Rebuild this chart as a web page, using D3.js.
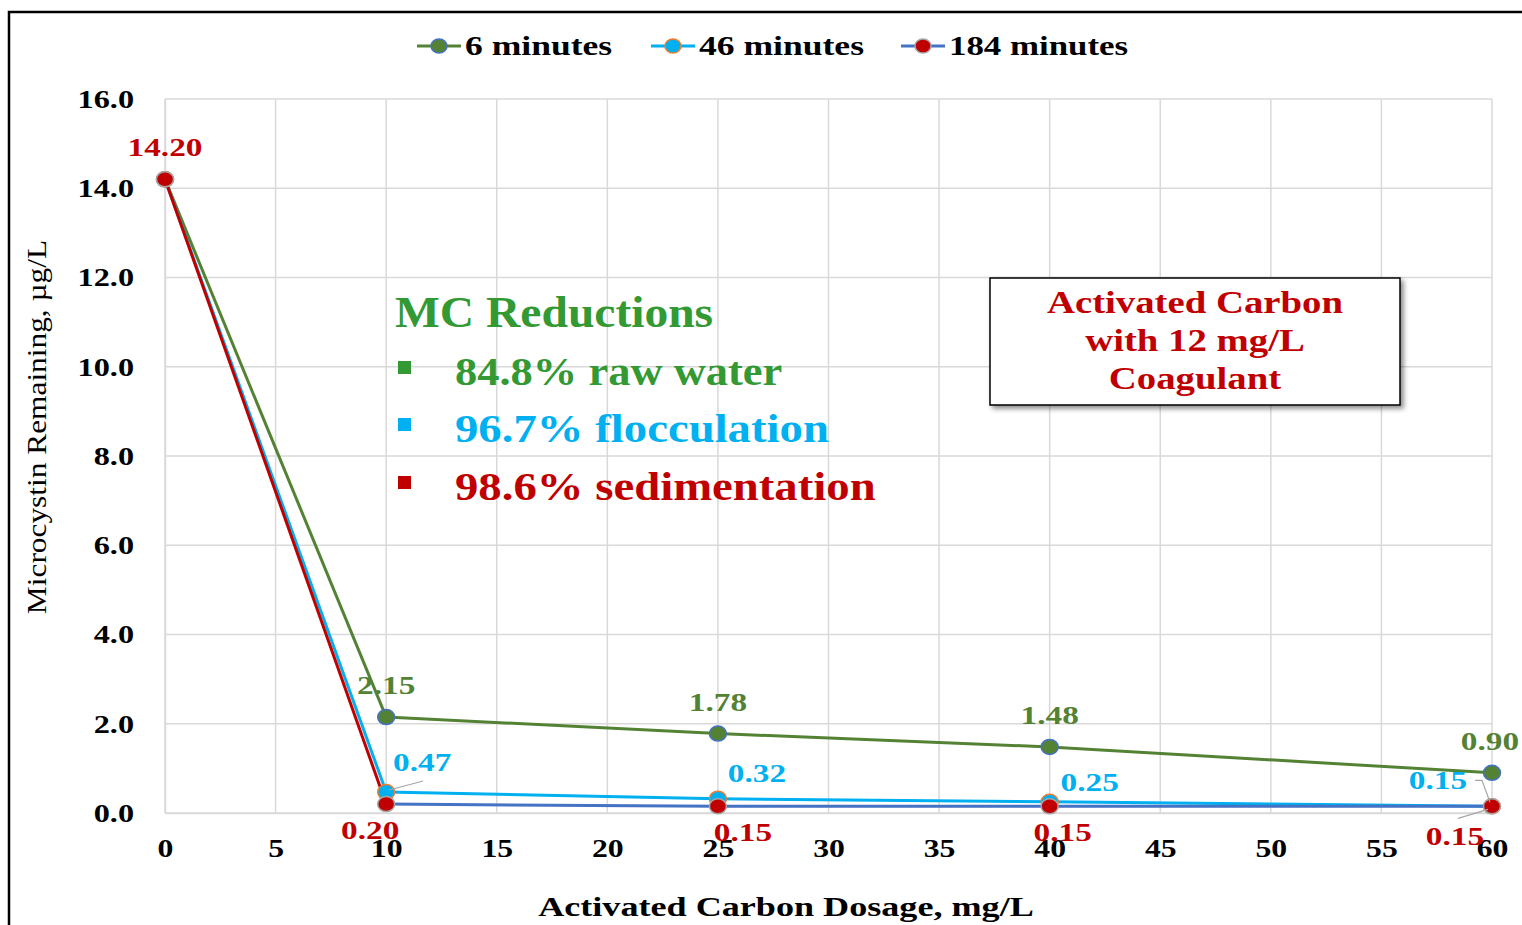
<!DOCTYPE html>
<html><head><meta charset="utf-8">
<script src="https://cdn.jsdelivr.net/npm/d3@7"></script>
<style>body{margin:0;background:#fff}svg{display:block}text{font-family:"Liberation Serif","Times New Roman",serif}</style>
</head><body><svg id="c" width="1522" height="925"></svg>
<script>
const dosage = [0, 10, 25, 40, 60];
const min6 = [14.2, 2.15, 1.78, 1.48, 0.90];
const min46 = [14.2, 0.47, 0.32, 0.25, 0.15];
const min184 = [14.2, 0.20, 0.15, 0.15, 0.15];
const seriesNames = ["6 minutes", "46 minutes", "184 minutes"];
const xTicks = [0,5,10,15,20,25,30,35,40,45,50,55,60];
const yTicks = [0,2,4,6,8,10,12,14,16];
const reductions = ["84.8% raw water", "96.7% flocculation", "98.6% sedimentation"];
const boxLines = ["Activated Carbon", "with 12 mg/L", "Coagulant"];

const svg = d3.select("#c");
const x = d3.scaleLinear().domain([0,60]).range([165,1492]);
const y = d3.scaleLinear().domain([0,16]).range([813,99]);

function stretch(sel, k){
  sel.each(function(){
    const w = this.getComputedTextLength();
    d3.select(this).attr("textLength", w*k).attr("lengthAdjust","spacingAndGlyphs");
  });
  return sel;
}

// outer frame
svg.append("path").attr("d","M9,925 V12 H1522").attr("fill","none").attr("stroke","#000").attr("stroke-width",2.5);

// grid
svg.append("g").selectAll("line").data(xTicks).join("line")
  .attr("x1",d=>x(d)).attr("x2",d=>x(d)).attr("y1",y(16)).attr("y2",y(0))
  .attr("stroke","#d9d9d9").attr("stroke-width",1.5);
svg.append("g").selectAll("line").data(yTicks).join("line")
  .attr("x1",x(0)).attr("x2",x(60)).attr("y1",d=>y(d)).attr("y2",d=>y(d))
  .attr("stroke","#d9d9d9").attr("stroke-width",1.5);

// axes via d3
const xAxis = svg.append("g").attr("transform",`translate(0,${y(0)})`)
  .call(d3.axisBottom(x).tickValues(xTicks).tickSize(0).tickPadding(26).tickFormat(d3.format("d")));
xAxis.select(".domain").attr("stroke","#d9d9d9").attr("stroke-width",1.5);
stretch(xAxis.selectAll("text").attr("font-size",26).attr("font-weight","bold").attr("fill","#000").attr("font-family","Liberation Serif"), 1.22);
const yAxis = svg.append("g").attr("transform",`translate(${x(0)},0)`)
  .call(d3.axisLeft(y).tickValues(yTicks).tickSize(0).tickPadding(31).tickFormat(d3.format(".1f")));
yAxis.select(".domain").attr("stroke","#d9d9d9").attr("stroke-width",1.5);
stretch(yAxis.selectAll("text").attr("font-size",26).attr("font-weight","bold").attr("fill","#000").attr("font-family","Liberation Serif"), 1.24);

// axis titles
stretch(svg.append("text").attr("x",786).attr("y",916).attr("text-anchor","middle")
  .attr("font-size",28).attr("font-weight","bold").text("Activated Carbon Dosage, mg/L"), 1.29);
stretch(svg.append("text").attr("transform","translate(46,427) rotate(-90)").attr("text-anchor","middle")
  .attr("font-size",28).text("Microcystin Remaining, µg/L"), 1.12);

// series
const series = [
  {name:seriesNames[0], vals:min6, line:"#548235", fill:"#548235", stroke:"#4472C4", first:"#548235"},
  {name:seriesNames[1], vals:min46, line:"#00B0F0", fill:"#00B0F0", stroke:"#ED7D31", first:"#00B0F0"},
  {name:seriesNames[2], vals:min184, line:"#4472C4", fill:"#C00000", stroke:"#A5A5A5", first:"#C00000"}
];
const lineGen = d3.line().x(d=>x(d[0])).y(d=>y(d[1]));
series.forEach(s=>{
  const pts = dosage.map((d,i)=>[d,s.vals[i]]);
  svg.append("path").attr("d",lineGen(pts.slice(1))).attr("fill","none").attr("stroke",s.line).attr("stroke-width",3);
  s.firstPath = pts.slice(0,2);
});
series.forEach(s=>{
  svg.append("path").attr("d",lineGen(s.firstPath)).attr("fill","none").attr("stroke",s.first).attr("stroke-width",3);
});
series.forEach(s=>{
  svg.append("g").selectAll("ellipse").data(dosage.map((d,i)=>[d,s.vals[i]])).join("ellipse")
    .attr("cx",d=>x(d[0])).attr("cy",d=>y(d[1])).attr("rx",8.5).attr("ry",7.5)
    .attr("fill",s.fill).attr("stroke",s.stroke).attr("stroke-width",1.5);
});

// data labels
const fmt = d3.format(".2f");
const lab = (xv, yv, dx, dy, color, txt)=> stretch(svg.append("text").attr("x",x(xv)+dx).attr("y",y(yv)+dy)
  .attr("text-anchor","middle").attr("font-size",26).attr("font-weight","bold").attr("fill",color).text(txt), 1.28);
lab(dosage[0], min184[0], 0, -23, "#C00000", fmt(min184[0]));
// 6 min
lab(dosage[1], min6[1], 0, -23, "#548235", fmt(min6[1]));
lab(dosage[2], min6[2], 0, -23, "#548235", fmt(min6[2]));
lab(dosage[3], min6[3], 0, -23, "#548235", fmt(min6[3]));
lab(dosage[4], min6[4], -2, -23, "#548235", fmt(min6[4]));
// 46 min
lab(dosage[1], min46[1], 36, -21, "#00B0F0", fmt(min46[1]));
lab(dosage[2], min46[2], 39, -17, "#00B0F0", fmt(min46[2]));
lab(dosage[3], min46[3], 40, -11, "#00B0F0", fmt(min46[3]));
lab(dosage[4], min46[4], -54, -17, "#00B0F0", fmt(min46[4]));
// 184 min
lab(dosage[1], min184[1], -16, 35, "#C00000", fmt(min184[1]));
lab(dosage[2], min184[2], 25, 35, "#C00000", fmt(min184[2]));
lab(dosage[3], min184[3], 13, 35, "#C00000", fmt(min184[3]));
lab(dosage[4], min184[4], -37, 39, "#C00000", fmt(min184[4]));
// leader lines
const lead = (pts)=> svg.append("path").attr("d",d3.line()(pts)).attr("fill","none").attr("stroke","#a6a6a6").attr("stroke-width",1.2);
lead([[x(dosage[1])+3, y(min46[1])-2],[x(dosage[1])+37, y(min46[1])-11]]);
lead([[x(dosage[4])-17, y(min46[4])-26],[x(dosage[4])-10, y(min46[4])-26],[x(dosage[4])-2, y(min46[4])-4]]);
lead([[x(dosage[4])-34, y(min184[4])+12],[x(dosage[4])-4, y(min184[4])+3]]);

// legend
const legX = [417, 651, 901];
const legK = [1.27, 1.27, 1.245];
series.forEach((s,i)=>{
  const g = svg.append("g");
  g.append("line").attr("x1",legX[i]).attr("x2",legX[i]+44).attr("y1",46).attr("y2",46).attr("stroke",s.line).attr("stroke-width",3);
  g.append("ellipse").attr("cx",legX[i]+22).attr("cy",46).attr("rx",8).attr("ry",7).attr("fill",s.fill).attr("stroke",s.stroke).attr("stroke-width",1.5);
  stretch(g.append("text").attr("x",legX[i]+48).attr("y",55).attr("font-size",28).attr("font-weight","bold").attr("fill","#000").text(s.name), legK[i]);
});

// MC Reductions annotation
const redColors = ["#339933","#00B0F0","#C00000"];
stretch(svg.append("text").attr("x",395).attr("y",327).attr("font-size",44).attr("font-weight","bold").attr("fill","#339933").text("MC Reductions"), 1.08);
const redY = [385, 442, 500];
const redK = [1.085, 1.14, 1.14];
reductions.forEach((t,i)=>{
  svg.append("rect").attr("x",398).attr("y",redY[i]-24).attr("width",13).attr("height",13).attr("fill",redColors[i]);
  stretch(svg.append("text").attr("x",455).attr("y",redY[i]).attr("font-size",41).attr("font-weight","bold").attr("fill",redColors[i]).text(t), redK[i]);
});

// text box
const defs = svg.append("defs");
const f = defs.append("filter").attr("id","sh").attr("x","-10%").attr("y","-10%").attr("width","130%").attr("height","140%");
f.append("feDropShadow").attr("dx",3).attr("dy",3).attr("stdDeviation",2.5).attr("flood-color","#000").attr("flood-opacity",0.45);
svg.append("rect").attr("x",990).attr("y",278).attr("width",410).attr("height",127).attr("fill","#fff").attr("stroke","#000").attr("stroke-width",1.5).attr("filter","url(#sh)");
boxLines.forEach((t,i)=>{
  stretch(svg.append("text").attr("x",1195).attr("y",313+i*38).attr("text-anchor","middle").attr("font-size",31).attr("font-weight","bold").attr("fill","#C00000").text(t), 1.25);
});
</script></body></html>
